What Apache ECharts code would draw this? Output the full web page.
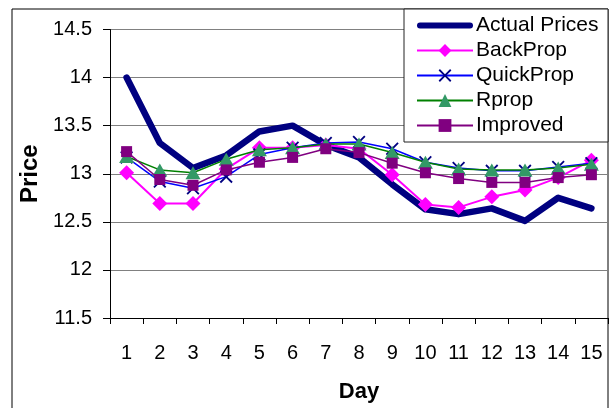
<!DOCTYPE html>
<html>
<head>
<meta charset="utf-8">
<script src="https://cdn.jsdelivr.net/npm/echarts@6/dist/echarts.min.js"></script>
<style>
  html, body { margin: 0; padding: 0; background: #fff; }
  #chart { width: 610px; height: 408px; }
</style>
</head>
<body>
<div id="chart"></div>
<script>
// Daily price forecasts from four training algorithms against actual prices
const days = ['1','2','3','4','5','6','7','8','9','10','11','12','13','14','15'];
const actualPrices = [14.0, 13.32, 13.06, 13.19, 13.44, 13.5, 13.3, 13.17, 12.89, 12.63, 12.58, 12.64, 12.51, 12.75, 12.64];
const backProp     = [13.01, 12.69, 12.69, 13.05, 13.27, 13.27, 13.3, 13.26, 12.99, 12.68, 12.65, 12.76, 12.83, 12.96, 13.14];
const quickProp    = [13.17, 12.92, 12.85, 12.97, 13.2, 13.27, 13.32, 13.33, 13.26, 13.12, 13.06, 13.03, 13.03, 13.07, 13.11];
const rprop        = [13.18, 13.04, 13.01, 13.15, 13.25, 13.27, 13.31, 13.31, 13.22, 13.12, 13.05, 13.04, 13.04, 13.06, 13.1];
const improved     = [13.23, 12.94, 12.88, 13.04, 13.12, 13.17, 13.26, 13.22, 13.11, 13.01, 12.95, 12.91, 12.91, 12.96, 12.99];
const priceTicks = { min: 11.5, max: 14.5, step: 0.5 };

const FONT = '"Liberation Sans", Arial, sans-serif';
const crossMark = 'path://M0,2 L2,0 L10,8 L18,0 L20,2 L12,10 L20,18 L18,20 L10,12 L2,20 L0,18 L8,10 Z';
// thick bar with rounded ends, used as the legend key of the actual-price line
const thickBar = 'path://M3,0 L53,0 A3,3 0 0 1 53,6 L3,6 A3,3 0 0 1 3,0 Z';

const chart = echarts.init(document.getElementById('chart'), null, { renderer: 'canvas' });

chart.setOption({
  backgroundColor: '#ffffff',
  animation: false,
  textStyle: { fontFamily: FONT },
  grid: { left: 110, right: 2, top: 29.5, bottom: 89 },
  graphic: [
    { type: 'rect', z: 0, shape: { x: 12, y: 9, width: 596, height: 430 },
      style: { fill: 'none', stroke: '#000', lineWidth: 1 } },
    { type: 'rect', z: 3, shape: { x: 404, y: 9, width: 204, height: 133 },
      style: { fill: '#fff', stroke: '#222', lineWidth: 1 } }
  ],
  legend: {
    z: 4,
    orient: 'vertical',
    left: 416,
    top: 15,
    itemWidth: 56,
    itemHeight: 16,
    itemGap: 4,
    padding: 0,
    textStyle: { fontSize: 21, color: '#000', fontFamily: FONT, padding: [0, 0, 0, -2] },
    data: [
      { name: 'Actual Prices', icon: thickBar },
      'BackProp', 'QuickProp', 'Rprop', 'Improved'
    ]
  },
  xAxis: {
    type: 'category',
    data: days,
    boundaryGap: true,
    name: 'Day',
    nameLocation: 'middle',
    nameGap: 63,
    nameTextStyle: { fontSize: 22, fontWeight: 'bold', color: '#000', fontFamily: FONT },
    axisLine: { lineStyle: { color: '#000', width: 1 } },
    axisTick: { show: true, length: 6, alignWithLabel: false, lineStyle: { color: '#000' } },
    axisLabel: { fontSize: 20, color: '#000', margin: 25, fontFamily: FONT, interval: 0 },
    splitLine: { show: false }
  },
  yAxis: {
    type: 'value',
    min: priceTicks.min,
    max: priceTicks.max,
    interval: priceTicks.step,
    name: 'Price',
    nameLocation: 'middle',
    nameGap: 61,
    nameRotate: 90,
    nameTextStyle: { fontSize: 24, fontWeight: 'bold', color: '#000', fontFamily: FONT },
    axisLine: { show: true, lineStyle: { color: '#000', width: 1 } },
    axisTick: { show: true, length: 7, lineStyle: { color: '#000' } },
    axisLabel: { fontSize: 20, color: '#000', margin: 18, fontFamily: FONT },
    splitLine: { show: true, lineStyle: { color: '#808080', width: 1 } }
  },
  series: [
    {
      name: 'Actual Prices', type: 'line', data: actualPrices, z: 2,
      symbol: 'none', color: '#000080',
      lineStyle: { color: '#000080', width: 6.5, cap: 'round', join: 'round' }
    },
    {
      name: 'BackProp', type: 'line', data: backProp, z: 3,
      symbol: 'diamond', symbolSize: 15, color: '#ff00ff',
      itemStyle: { color: '#ff00ff' },
      lineStyle: { color: '#ff00ff', width: 2 }
    },
    {
      name: 'QuickProp', type: 'line', data: quickProp, z: 4,
      symbol: crossMark, symbolSize: 13, color: '#000080',
      itemStyle: { color: '#000080' },
      lineStyle: { color: '#0000ff', width: 1.5 }
    },
    {
      name: 'Rprop', type: 'line', data: rprop, z: 5,
      symbol: 'triangle', symbolSize: [15, 13], color: '#339966',
      itemStyle: { color: '#339966' },
      lineStyle: { color: '#008000', width: 1.5 }
    },
    {
      name: 'Improved', type: 'line', data: improved, z: 6,
      symbol: 'rect', symbolSize: 11, color: '#800080',
      itemStyle: { color: '#800080' },
      lineStyle: { color: '#800080', width: 1.5 }
    }
  ]
});
</script>
</body>
</html>
